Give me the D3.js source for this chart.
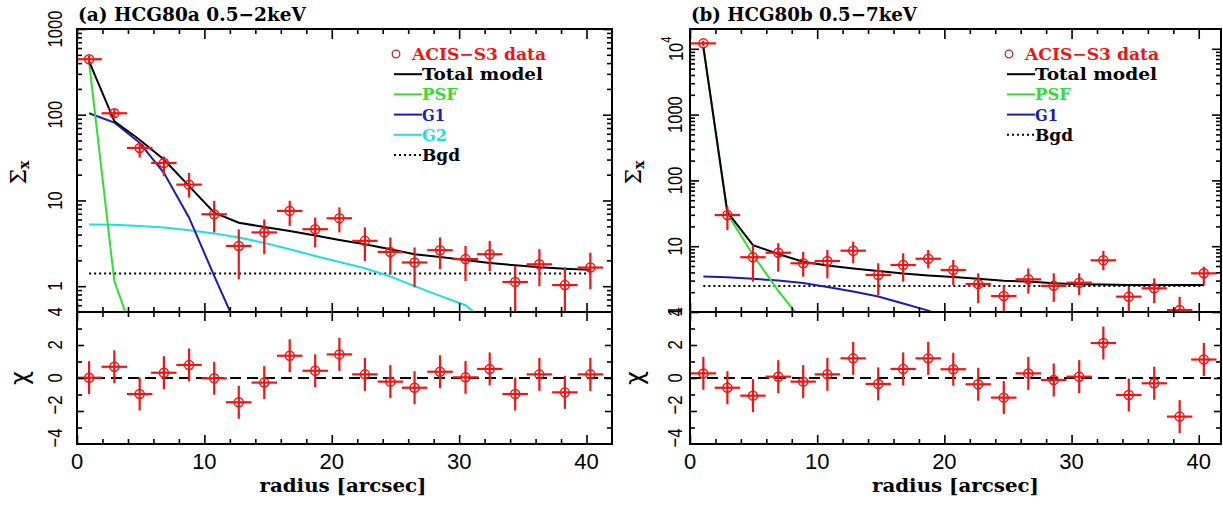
<!DOCTYPE html>
<html>
<head>
<meta charset="utf-8">
<script src="https://cdn.jsdelivr.net/npm/d3@7"></script>
<style>
  body { margin: 0; background: #fff; }
  svg { display: block; }
  .serif { font-family: "DejaVu Serif", serif; font-weight: bold; }
  .sans { font-family: "Liberation Sans", Arial, sans-serif; }
</style>
</head>
<body>
<svg id="chart" width="1223" height="506"></svg>
<script>
// ---- panel (a) HCG80a 0.5-2keV ----
const radius_a = [0.95, 2.93, 4.92, 6.82, 8.8, 10.77, 12.7, 14.7, 16.7, 18.7, 20.6, 22.6, 24.6, 26.5, 28.5, 30.5, 32.4, 34.4, 36.3, 38.3, 40.3];
const sigma_a = [444, 104, 41, 27.4, 15.3, 6.9, 2.95, 4.24, 7.56, 4.62, 6.2, 3.38, 2.51, 1.89, 2.63, 2.07, 2.36, 1.12, 1.8, 1.03, 1.65];
const sigma_a_lo = [400, 92, 31.6, 19.2, 10.8, 4.24, 1.2, 2.36, 5.05, 2.83, 4.24, 1.97, 1.38, 0.97, 1.58, 1.15, 1.5, 0.45, 1.0, 0.45, 0.92];
const sigma_a_hi = [490, 116, 47, 32.6, 21, 9.9, 4.6, 6.0, 9.9, 6.3, 8.3, 4.85, 3.7, 2.83, 3.7, 2.95, 3.38, 1.72, 2.7, 1.66, 2.46];
const chi_a = [0.02, 0.68, -0.97, 0.32, 0.79, -0.02, -1.47, -0.28, 1.35, 0.44, 1.43, 0.22, -0.22, -0.59, 0.38, 0.04, 0.55, -0.97, 0.22, -0.87, 0.22];
const total_a = [420, 84, 51, 30, 14.7, 7.2, 5.5, 4.9, 4.4, 3.9, 3.46, 3.08, 2.7, 2.36, 2.19, 2.02, 1.87, 1.75, 1.66, 1.6, 1.55];
const psf_a = [410, 1.15, 0.17, 0.03];
const g1_a = [104, 81, 47, 21, 6.3, 1.32, 0.3];
const g2_a = [5.25, 5.2, 5.05, 4.85, 4.5, 4.13, 3.7, 3.2, 2.7, 2.25, 1.92, 1.62, 1.3, 1.0, 0.77, 0.6, 0.35];
const bgd_a = 1.41;

// ---- panel (b) HCG80b 0.5-7keV ----
const radius_b = [1.05, 2.94, 4.95, 6.94, 8.9, 10.8, 12.83, 14.8, 16.76, 18.73, 20.7, 22.66, 24.67, 26.6, 28.6, 30.6, 32.5, 34.5, 36.5, 38.5, 40.4];
const sigma_b = [12100, 29.8, 6.8, 7.96, 5.5, 5.96, 8.55, 3.65, 5.18, 6.45, 4.35, 2.67, 1.75, 3.14, 2.5, 2.79, 6.1, 1.71, 2.29, 1.07, 3.87];
const sigma_b_lo = [11000, 17.6, 2.89, 4.1, 3.44, 3.25, 5.5, 1.81, 2.89, 4.6, 2.57, 1.36, 1.0, 1.9, 1.43, 1.8, 4.3, 1.01, 1.36, 0.95, 2.57];
const sigma_b_hi = [13300, 40, 10.4, 11.1, 8.2, 8.76, 11.7, 5.5, 7.8, 8.76, 6.17, 3.87, 2.57, 4.6, 3.87, 3.87, 8.5, 2.42, 3.25, 1.7, 4.88];
const chi_b = [0.28, -0.59, -1.07, 0.08, -0.22, 0.22, 1.19, -0.36, 0.55, 1.19, 0.53, -0.38, -1.19, 0.28, -0.12, 0.08, 2.12, -1.03, -0.32, -2.34, 1.12];
const total_b = [10700, 33, 10.4, 7.6, 5.8, 5.1, 4.6, 4.2, 3.85, 3.6, 3.4, 3.2, 2.98, 2.9, 2.73, 2.65, 2.62, 2.58, 2.57, 2.57, 2.57];
const psf_b = [10700, 31, 7.4, 2.1, 0.7, 0.25];
const g1_b = [3.45, 3.38, 3.2, 3.0, 2.75, 2.4, 2.05, 1.72, 1.35, 1.05, 0.75];
const bgd_b = 2.48;

const binHalf = 1;               // radial bin half-width [arcsec]
const chiTicksLabel = [-4, -2, 0, 2, 4];
const xTicksMajor = [0, 10, 20, 30, 40];

const RED = "#ee1515", GREEN = "#33dd33", BLUE = "#1c1cb0", CYAN = "#22dede";
const yTop = 29, yMid = 312, yBot = 444;

const svg = d3.select("#chart");
const defs = svg.append("defs");

const panels = [
  {
    id: "a", title: "(a) HCG80a 0.5\u22122keV", titleW: 228,
    x: d3.scaleLinear().domain([0, 42]).range([77, 612]),
    y: d3.scaleLog().domain([0.5, 1000]).range([yMid, yTop]),
    decades: [1, 10, 100, 1000],
    radius: radius_a, sigma: sigma_a, lo: sigma_a_lo, hi: sigma_a_hi, chi: chi_a, bgd: bgd_a,
    models: [
      { name: "Total model", vals: total_a, color: "#000", w: 121 },
      { name: "PSF", vals: psf_a, color: GREEN, w: 36 },
      { name: "G1", vals: g1_a, color: BLUE, w: 23 },
      { name: "G2", vals: g2_a, color: CYAN, w: 25 }
    ],
    labelX: 54.5, ySym: 18, xlabCenter: 343
  },
  {
    id: "b", title: "(b) HCG80b 0.5\u22127keV", titleW: 226,
    x: d3.scaleLinear().domain([0, 41.75]).range([690, 1221]),
    y: d3.scaleLog().domain([1, 20000]).range([yMid, yTop]),
    decades: [1, 10, 100, 1000, 10000],
    radius: radius_b, sigma: sigma_b, lo: sigma_b_lo, hi: sigma_b_hi, chi: chi_b, bgd: bgd_b,
    models: [
      { name: "Total model", vals: total_b, color: "#000", w: 122 },
      { name: "PSF", vals: psf_b, color: GREEN, w: 36 },
      { name: "G1", vals: g1_b, color: BLUE, w: 23 }
    ],
    labelX: 675, ySym: 633, xlabCenter: 955.5
  }
];

const chiScale = d3.scaleLinear().domain([-4, 4]).range([yBot, yMid]);

function minorLog(domain) {
  const out = [];
  for (let e = -1; e <= 5; e++) {
    for (let k = 2; k <= 9; k++) {
      const v = k * Math.pow(10, e);
      if (v > domain[0] * 1.001 && v < domain[1]) out.push(v);
    }
  }
  return out;
}

function tickAxis(g, axis, tx, ty, vals, size) {
  g.append("g")
    .attr("transform", `translate(${tx},${ty})`)
    .call(axis.tickValues(vals).tickSize(size).tickSizeOuter(0).tickFormat(""))
    .call(a => a.select(".domain").remove())
    .call(a => a.selectAll("line").attr("stroke", "#000").attr("stroke-width", 1.6));
}

panels.forEach(p => {
  const g = svg.append("g");
  const [xl, xr] = p.x.range();
  const n = p.radius.length;
  const idx = d3.range(n);

  defs.append("clipPath").attr("id", `clipT${p.id}`)
    .append("rect").attr("x", xl).attr("y", yTop).attr("width", xr - xl).attr("height", yMid - yTop);
  defs.append("clipPath").attr("id", `clipB${p.id}`)
    .append("rect").attr("x", xl).attr("y", yMid).attr("width", xr - xl).attr("height", yBot - yMid);

  // ---------- top panel: surface brightness ----------
  const top = g.append("g").attr("clip-path", `url(#clipT${p.id})`);

  // background level
  top.append("line")
    .attr("x1", p.x(p.radius[0])).attr("x2", p.x(p.radius[n - 1]))
    .attr("y1", p.y(p.bgd)).attr("y2", p.y(p.bgd))
    .attr("stroke", "#000").attr("stroke-width", 2).attr("stroke-dasharray", "2,3");

  // model curves
  p.models.slice().reverse().forEach(m => {
    top.append("path")
      .datum(m.vals)
      .attr("fill", "none")
      .attr("stroke", m.color)
      .attr("stroke-width", 2)
      .attr("d", d3.line().x((d, i) => p.x(p.radius[i])).y(d => p.y(d)));
  });

  // data error bars
  top.selectAll(".xe").data(idx).join("line")
    .attr("x1", i => p.x(p.radius[i] - binHalf)).attr("x2", i => p.x(p.radius[i] + binHalf))
    .attr("y1", i => p.y(p.sigma[i])).attr("y2", i => p.y(p.sigma[i]))
    .attr("stroke", RED).attr("stroke-width", 2.2);
  top.selectAll(".ye").data(idx).join("line")
    .attr("x1", i => p.x(p.radius[i])).attr("x2", i => p.x(p.radius[i]))
    .attr("y1", i => p.y(p.lo[i])).attr("y2", i => p.y(p.hi[i]))
    .attr("stroke", RED).attr("stroke-width", 2.2);
  top.selectAll(".pt").data(idx).join("circle")
    .attr("cx", i => p.x(p.radius[i])).attr("cy", i => p.y(p.sigma[i]))
    .attr("r", 4.5).attr("fill", "none").attr("stroke", RED).attr("stroke-width", 1.5);

  // ---------- bottom panel: residuals ----------
  const bot = g.append("g").attr("clip-path", `url(#clipB${p.id})`);
  bot.append("line")
    .attr("x1", xl).attr("x2", xr).attr("y1", chiScale(0)).attr("y2", chiScale(0))
    .attr("stroke", "#000").attr("stroke-width", 2).attr("stroke-dasharray", "11,6");
  bot.selectAll(".xe").data(idx).join("line")
    .attr("x1", i => p.x(p.radius[i] - binHalf)).attr("x2", i => p.x(p.radius[i] + binHalf))
    .attr("y1", i => chiScale(p.chi[i])).attr("y2", i => chiScale(p.chi[i]))
    .attr("stroke", RED).attr("stroke-width", 2.2);
  bot.selectAll(".ye").data(idx).join("line")
    .attr("x1", i => p.x(p.radius[i])).attr("x2", i => p.x(p.radius[i]))
    .attr("y1", i => chiScale(p.chi[i] - 1)).attr("y2", i => chiScale(p.chi[i] + 1))
    .attr("stroke", RED).attr("stroke-width", 2.2);
  bot.selectAll(".pt").data(idx).join("circle")
    .attr("cx", i => p.x(p.radius[i])).attr("cy", i => chiScale(p.chi[i]))
    .attr("r", 4.5).attr("fill", "none").attr("stroke", RED).attr("stroke-width", 1.5);

  // ---------- frames and ticks ----------
  g.append("rect").attr("x", xl).attr("y", yTop).attr("width", xr - xl).attr("height", yBot - yTop)
    .attr("fill", "none").attr("stroke", "#000").attr("stroke-width", 2);
  g.append("line").attr("x1", xl).attr("x2", xr).attr("y1", yMid).attr("y2", yMid)
    .attr("stroke", "#000").attr("stroke-width", 2);

  const xMinor = d3.range(0, 42, 2).filter(v => v % 10 !== 0 && v <= p.x.domain()[1]);
  tickAxis(g, d3.axisBottom(p.x), 0, yTop, xTicksMajor, 10);
  tickAxis(g, d3.axisBottom(p.x), 0, yTop, xMinor, 5);
  tickAxis(g, d3.axisBottom(p.x), 0, yMid, xTicksMajor, -9);
  tickAxis(g, d3.axisBottom(p.x), 0, yMid, xMinor, -5);
  tickAxis(g, d3.axisBottom(p.x), 0, yMid, xTicksMajor, 9);
  tickAxis(g, d3.axisBottom(p.x), 0, yMid, xMinor, 5);
  tickAxis(g, d3.axisBottom(p.x), 0, yBot, xTicksMajor, -9);
  tickAxis(g, d3.axisBottom(p.x), 0, yBot, xMinor, -5);

  const decs = p.decades.filter(v => v >= p.y.domain()[0] && v <= p.y.domain()[1]);
  const mins = minorLog(p.y.domain());
  tickAxis(g, d3.axisLeft(p.y), xl, 0, decs, -9);
  tickAxis(g, d3.axisLeft(p.y), xl, 0, mins, -5);
  tickAxis(g, d3.axisRight(p.y), xr, 0, decs, -9);
  tickAxis(g, d3.axisRight(p.y), xr, 0, mins, -5);

  tickAxis(g, d3.axisLeft(chiScale), xl, 0, [-2, 0, 2], -7);
  tickAxis(g, d3.axisLeft(chiScale), xl, 0, [-3, -1, 1, 3], -5);
  tickAxis(g, d3.axisRight(chiScale), xr, 0, [-2, 0, 2], -7);
  tickAxis(g, d3.axisRight(chiScale), xr, 0, [-3, -1, 1, 3], -5);

  // ---------- tick labels ----------
  g.selectAll(".xl").data(xTicksMajor).join("text")
    .attr("class", "sans")
    .attr("x", d => p.x(d)).attr("y", 468.5)
    .attr("text-anchor", "middle").attr("font-size", 22)
    .text(d => d);

  const yl = g.selectAll(".yl").data(decs).join("text")
    .attr("class", "sans")
    .attr("transform", d => `translate(${p.labelX},${p.y(d)}) rotate(-90) scale(0.79,1)`)
    .attr("text-anchor", "middle").attr("dominant-baseline", "central")
    .attr("font-size", 21);
  yl.each(function (d) {
    const t = d3.select(this);
    if (d >= 10000) {
      t.append("tspan").text("10");
      t.append("tspan").attr("dy", -8).attr("font-size", 14).text(Math.round(Math.log10(d)));
    } else {
      t.text(d);
    }
  });

  g.selectAll(".cl").data(chiTicksLabel).join("text")
    .attr("class", "sans")
    .attr("transform", d => `translate(${p.labelX},${chiScale(d) + (d < 0 ? -6 : 0)}) rotate(-90) scale(0.79,1)`)
    .attr("text-anchor", "middle").attr("dominant-baseline", "central")
    .attr("font-size", 21)
    .text(d => d < 0 ? "\u2212" + Math.abs(d) : d);

  // ---------- axis titles ----------
  const sig = g.append("text")
    .attr("transform", `translate(${p.ySym},${(yTop + yMid) / 2 + 2}) rotate(-90)`)
    .attr("text-anchor", "middle").attr("dominant-baseline", "central")
    .attr("font-family", "DejaVu Serif").attr("font-size", 22);
  sig.append("tspan").text("\u03A3");
  sig.append("tspan").attr("dy", 6).attr("font-size", 14).attr("font-weight", "bold").text("x");

  g.append("text")
    .attr("transform", `translate(${p.ySym + 2},${chiScale(0)}) rotate(-90)`)
    .attr("text-anchor", "middle").attr("dominant-baseline", "central")
    .attr("font-family", "DejaVu Sans").attr("font-size", 24)
    .text("\u03C7");

  g.append("text").attr("class", "serif")
    .attr("x", p.xlabCenter).attr("y", 491.5)
    .attr("text-anchor", "middle").attr("font-size", 18)
    .attr("textLength", 167).attr("lengthAdjust", "spacingAndGlyphs")
    .text("radius [arcsec]");

  g.append("text").attr("class", "serif")
    .attr("x", xl + 1).attr("y", 21)
    .attr("font-size", 19)
    .attr("textLength", p.titleW).attr("lengthAdjust", "spacingAndGlyphs")
    .text(p.title);

  // ---------- legend ----------
  const lx0 = xl + 317, lx1 = xl + 345, rowH = 20.2, row0 = 54;
  const leg = g.append("g");
  leg.append("circle").attr("cx", lx0 + 2).attr("cy", row0).attr("r", 3.8)
    .attr("fill", "none").attr("stroke", "#b03030").attr("stroke-width", 1.3);
  leg.append("text").attr("class", "serif")
    .attr("x", lx0 + 18).attr("y", row0 + 6).attr("font-size", 17).attr("fill", RED)
    .attr("textLength", 134).attr("lengthAdjust", "spacingAndGlyphs")
    .text("ACIS\u2212S3 data");
  const entries = p.models.map(m => ({ name: m.name, color: m.color, w: m.w, dash: null }))
    .concat([{ name: "Bgd", color: "#000", w: 38, dash: "2,3" }]);
  entries.forEach((e, i) => {
    const yy = row0 + rowH * (i + 1);
    leg.append("line").attr("x1", lx0).attr("x2", lx1).attr("y1", yy).attr("y2", yy)
      .attr("stroke", e.color).attr("stroke-width", 2)
      .attr("stroke-dasharray", e.dash);
    leg.append("text").attr("class", "serif")
      .attr("x", lx1).attr("y", yy + 6).attr("font-size", 17)
      .attr("fill", e.color)
      .attr("textLength", e.w).attr("lengthAdjust", "spacingAndGlyphs")
      .text(e.name);
  });
});
</script>
</body>
</html>
